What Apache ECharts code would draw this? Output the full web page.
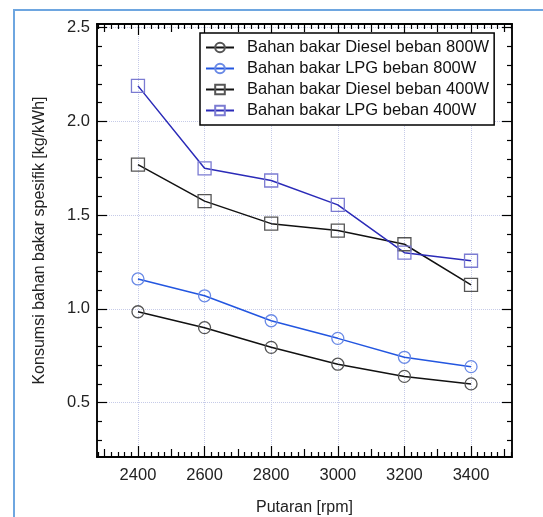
<!DOCTYPE html>
<html>
<head>
<meta charset="utf-8">
<script src="https://cdn.jsdelivr.net/npm/echarts@6/dist/echarts.min.js"></script>
<style>
  html, body { margin: 0; padding: 0; background: #fff; }
  #chart { width: 543px; height: 517px; }
</style>
</head>
<body>
<div id="chart"></div>
<script>
// data
const rpm = [2400, 2600, 2800, 3000, 3200, 3400];
const diesel800 = [0.985, 0.90, 0.795, 0.705, 0.64, 0.60];
const lpg800 = [1.16, 1.07, 0.937, 0.843, 0.742, 0.692];
const diesel400 = [1.77, 1.575, 1.455, 1.418, 1.345, 1.128];
const lpg400 = [2.19, 1.75, 1.685, 1.555, 1.30, 1.257];

const seriesNames = [
  'Bahan bakar Diesel beban 800W',
  'Bahan bakar LPG beban 800W',
  'Bahan bakar Diesel beban 400W',
  'Bahan bakar LPG beban 400W'
];

// tick labels
const xLabels = [2400, 2600, 2800, 3000, 3200, 3400];
const yLabels = [0.5, 1.0, 1.5, 2.0, 2.5];

const X_MIN = 2277, X_MAX = 3523;
const Y_MIN = 0.21, Y_MAX = 2.52;

// tick positions for the inside ticks
let xMid = [], xMinor = [], yMinor = [];
for (let v = 2300; v <= 3500; v += 100) {
  if (xLabels.indexOf(v) < 0) xMid.push(v);
}
for (let v = 2280; v <= 3520; v += 20) {
  if (v % 100 !== 0) xMinor.push(v);
}
for (let i = 3; i <= 25; i++) {
  if (i % 5 !== 0) yMinor.push(i / 10);
}

const FONT = '"Liberation Sans", Arial, sans-serif';

function xAx(pos, ticks, len, extra) {
  return Object.assign({
    type: 'value', position: pos, min: X_MIN, max: X_MAX,
    axisLine: {show: true, lineStyle: {color: '#000', width: 1.5}},
    axisTick: {show: true, inside: true, length: len, customValues: ticks, lineStyle: {color: '#000', width: 1.2}},
    axisLabel: {show: false},
    splitLine: {show: false}
  }, extra || {});
}
function yAx(pos, ticks, len, extra) {
  return Object.assign({
    type: 'value', position: pos, min: Y_MIN, max: Y_MAX,
    axisLine: {show: true, lineStyle: {color: '#000', width: 1.5}},
    axisTick: {show: true, inside: true, length: len, customValues: ticks, lineStyle: {color: '#000', width: 1.2}},
    axisLabel: {show: false},
    splitLine: {show: false}
  }, extra || {});
}

const gridLine = {show: true, lineStyle: {color: '#c6cbe8', type: 'dotted', width: 1}};

function pairs(ys) {
  return rpm.map((x, i) => [x, ys[i]]);
}

function mk(name, ys, symbol, lineColor, markColor, size) {
  return {
    name: name, type: 'line', xAxisIndex: 0, yAxisIndex: 0,
    data: pairs(ys),
    symbol: symbol, symbolSize: size, showSymbol: true,
    lineStyle: {color: lineColor, width: 1.5},
    itemStyle: {color: 'rgba(255,255,255,0)', borderColor: markColor, borderWidth: 1.3}
  };
}

const chart = echarts.init(document.getElementById('chart'));
chart.setOption({
  animation: false,
  backgroundColor: '#fff',
  textStyle: {fontFamily: FONT},
  graphic: [{
    type: 'rect', silent: true,
    shape: {x: 14, y: 10, width: 560, height: 560},
    style: {fill: 'none', stroke: '#6ea6e0', lineWidth: 2}
  }],
  grid: {left: 97, right: 31, top: 24, bottom: 60, outerBoundsMode: 'none', containLabel: false},
  legend: {
    orient: 'vertical', left: 200, top: 33,
    padding: [6, 5, 6, 5],
    borderColor: '#000', borderWidth: 1.5,
    backgroundColor: '#fff',
    itemWidth: 28, itemHeight: 12, itemGap: 4,
    textStyle: {fontFamily: FONT, fontSize: 16.5, color: '#111', lineHeight: 16, padding: [0, 0, 0, 8]},
    data: seriesNames
  },
  xAxis: [
    xAx('bottom', xLabels, 11, {
      name: 'Putaran [rpm]', nameLocation: 'middle', nameGap: 43,
      nameTextStyle: {fontFamily: FONT, fontSize: 16, color: '#222'},
      axisLabel: {show: true, customValues: xLabels, margin: 10, fontFamily: FONT, fontSize: 16.5, color: '#222',
        formatter: v => String(v)},
      splitLine: gridLine
    }),
    xAx('bottom', xMid, 8),
    xAx('bottom', xMinor, 5),
    xAx('top', xLabels, 11),
    xAx('top', xMid, 8),
    xAx('top', xMinor, 5)
  ],
  yAxis: [
    yAx('left', yLabels, 10, {
      name: 'Konsumsi bahan bakar spesifik [kg/kWh]', nameLocation: 'middle', nameGap: 49,
      nameTextStyle: {fontFamily: FONT, fontSize: 16, color: '#222'},
      axisLabel: {show: true, customValues: yLabels, margin: 7, fontFamily: FONT, fontSize: 16.5, color: '#222',
        formatter: v => v.toFixed(1)},
      splitLine: gridLine
    }),
    yAx('left', yMinor, 5),
    yAx('right', yLabels, 10),
    yAx('right', yMinor, 5)
  ],
  series: [
    mk(seriesNames[0], diesel800, 'circle', '#111', '#555', 12),
    mk(seriesNames[1], lpg800, 'circle', '#2356e0', '#6a8ae6', 12),
    mk(seriesNames[2], diesel400, 'rect', '#111', '#555', 13),
    mk(seriesNames[3], lpg400, 'rect', '#2b2bb8', '#7b7bd2', 13)
  ]
});
</script>
</body>
</html>
